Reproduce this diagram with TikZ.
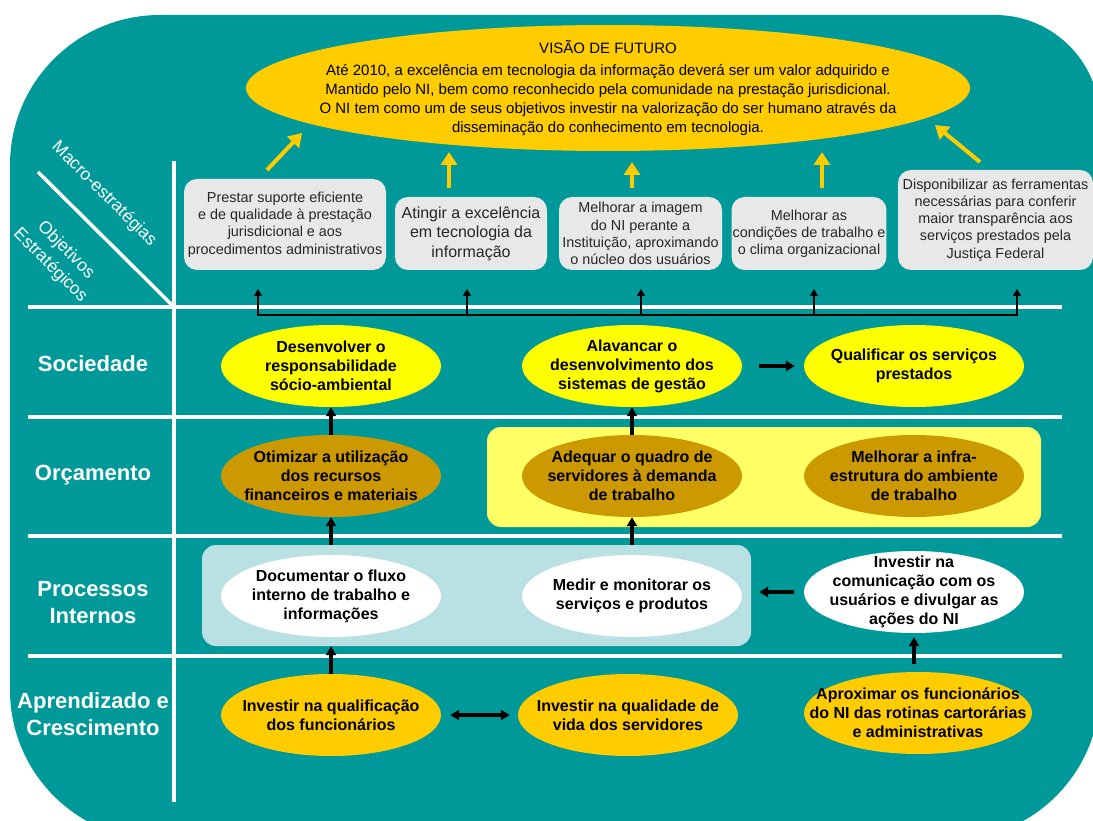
\documentclass[tikz,border=0pt]{standalone}
\usepackage{fontspec}
\setmainfont{Liberation Sans}
\usetikzlibrary{shapes.geometric,arrows.meta}

\definecolor{bsc}{HTML}{009999}
\definecolor{gold}{HTML}{FFCC00}
\definecolor{yel}{HTML}{FFFF00}
\definecolor{ochre}{HTML}{CC9900}
\definecolor{paleyel}{HTML}{FFFF66}
\definecolor{paleblue}{HTML}{B9E0E3}
\definecolor{boxgray}{HTML}{E8E8E8}

\tikzset{
    obj/.style={ellipse, fill=#1, minimum width=220pt, minimum height=82pt,
        inner xsep=-40pt, inner ysep=-20pt, align=center,
        font=\fontsize{16}{19}\selectfont\bfseries},
    macro/.style={fill=boxgray, rounded corners=13pt, align=center, inner sep=1pt,
        text=black!85, font=\fontsize{14.4}{17.2}\selectfont},
    panel/.style={fill=#1, rounded corners=14pt},
    rowlabel/.style={text=white, align=center, font=\fontsize{22}{27}\selectfont\bfseries},
    diaglabel/.style={text=white, align=center, rotate=-45, font=\fontsize{17.5}{22}\selectfont},
    gridline/.style={white, line width=3.5pt},
    flow/.style={-{Triangle[length=9pt,width=10pt]}, line width=3.2pt},
    bus/.style={-{Triangle[length=7pt,width=8pt]}, line width=1.8pt},
    goal/.style={-{Triangle[length=13pt,width=16pt]}, gold, line width=4pt},
}

\begin{document}
\begin{tikzpicture}[x=1pt, y=-1pt]
    \useasboundingbox (0,0) rectangle (1093,821);
    \fill[white] (0,0) rectangle (1093,821);
    \fill[bsc] (10,165) arc[start angle=180, end angle=270, radius=150] -- (995,15)
        arc[start angle=270, end angle=360, radius=105] -- (1100,690)
        arc[start angle=0, end angle=90, radius=150] -- (160,840)
        arc[start angle=90, end angle=180, radius=150] -- cycle;

    % grade
    \foreach \y in {307, 417, 536, 656} {
        \draw[gridline] (28,\y) -- (1062,\y);
    }
    \draw[gridline] (174,161) -- (174,802);
    \draw[gridline] (38,172) -- (174,307);

    \node[diaglabel] (macroest) at (104,194) {Macro-estratégias};
    \node[diaglabel] (objest) at (58,258) {Objetivos\\Estratégicos};

    \foreach \t/\y [count=\i] in {Sociedade/364, Orçamento/475, Processos\\Internos/603, Aprendizado e\\Crescimento/714} {
        \node[rowlabel] (row\i) at (93,\y) {\t};
    }

    % visao
    \node[ellipse, fill=gold, minimum width=724pt, minimum height=126pt, inner xsep=-150pt,
        inner ysep=-30pt, align=center, font=\fontsize{15}{19}\selectfont] (visao) at (608,88)
        {VISÃO DE FUTURO\\[3pt]Até 2010, a excelência em tecnologia da informação deverá ser um valor adquirido e\\Mantido pelo NI, bem como reconhecido pela comunidade na prestação jurisdicional.\\O NI tem como um de seus objetivos investir na valorização do ser humano através da\\disseminação do conhecimento em tecnologia.};

    \foreach \xa/\ya/\xb/\yb [count=\i] in {267/170/302/133, 449/188/449/152, 632/188/632/162, 822/188/822/152, 980/162/935/125} {
        \coordinate (gs\i) at (\xa,\ya);
        \coordinate (ge\i) at (\xb,\yb);
        \draw[goal] (gs\i) -- (ge\i);
    }

    % macro-estrategias
    \node[macro, minimum width=202pt, minimum height=91pt] (m1) at (285,224.5) {Prestar suporte eficiente\\e de qualidade à prestação\\jurisdicional e aos\\procedimentos administrativos};
    \node[macro, minimum width=152pt, minimum height=73pt, font=\fontsize{16}{19.5}\selectfont] (m2) at (471,233.5) {Atingir a excelência\\em tecnologia da\\informação};
    \node[macro, minimum width=163pt, minimum height=73pt] (m3) at (640.5,233.5) {Melhorar a imagem\\do NI perante a\\Instituição, aproximando\\o núcleo dos usuários};
    \node[macro, minimum width=154pt, minimum height=73pt] (m4) at (809,233.5) {Melhorar as\\condições de trabalho e\\o clima organizacional};
    \node[macro, minimum width=195pt, minimum height=100pt] (m5) at (995.5,220) {Disponibilizar as ferramentas\\necessárias para conferir\\maior transparência aos\\serviços prestados pela\\Justiça Federal};

    \foreach \x [count=\i] in {258, 467, 641, 814, 1017} {
        \coordinate (foot\i) at (\x,315);
        \coordinate (tip\i) at (\x,289);
    }
    \draw[bus, {Triangle[length=7pt,width=8pt]}-{Triangle[length=7pt,width=8pt]}] (tip1) -- (foot1) -- (foot5) -- (tip5);
    \foreach \i in {2,3,4} {
        \draw[bus] (foot\i) -- (tip\i);
    }

    % objetivos
    \node[panel=paleyel, minimum width=554pt, minimum height=100pt] (orcpanel) at (764,477) {};
    \node[panel=paleblue, minimum width=549pt, minimum height=101pt] (procpanel) at (476.5,595.5) {};

    \node[obj=yel] (soc1) at (331,366) {Desenvolver o\\responsabilidade\\sócio-ambiental};
    \node[obj=yel] (soc2) at (632,366) {Alavancar o\\desenvolvimento dos\\sistemas de gestão};
    \node[obj=yel] (soc3) at (914,366) {Qualificar os serviços\\prestados};
    \node[obj=ochre] (orc1) at (331,476) {Otimizar a utilização\\dos recursos\\financeiros e materiais};
    \node[obj=ochre] (orc2) at (632,476) {Adequar o quadro de\\servidores à demanda\\de trabalho};
    \node[obj=ochre] (orc3) at (914,476) {Melhorar a infra-\\estrutura do ambiente\\de trabalho};
    \node[obj=white] (proc1) at (331,596) {Documentar o fluxo\\interno de trabalho e\\informações};
    \node[obj=white] (proc2) at (632,596) {Medir e monitorar os\\serviços e produtos};
    \node[obj=white] (proc3) at (914,592) {Investir na\\comunicação com os\\usuários e divulgar as\\ações do NI};
    \node[obj=gold] (apr1) at (331,715) {Investir na qualificação\\dos funcionários};
    \node[obj=gold] (apr2) at (628,715) {Investir na qualidade de\\vida dos servidores};
    \node[obj=gold, minimum width=228pt] (apr3) at (918,713) {Aproximar os funcionários\\do NI das rotinas cartorárias\\e administrativas};

    \draw[flow] (orc1.north) -- (soc1.south);
    \draw[flow] (orc2.north) -- (soc2.south);
    \draw[flow] (procpanel.north -| orc1.south) -- (orc1.south);
    \draw[flow] (procpanel.north -| orc2.south) -- (orc2.south);
    \draw[flow] (apr1.north) -- (procpanel.south -| apr1.north);
    \draw[flow, shorten <=8pt, shorten >=4pt] (apr3.north -| proc3.south) -- (proc3.south);
    \draw[flow, shorten <=17pt, shorten >=9pt] (soc2.east) -- (soc3.west);
    \draw[flow, shorten <=10pt, shorten >=17pt] (proc3.west) -- (proc3.west -| proc2.east);
    \draw[flow, {Triangle[length=9pt,width=10pt]}-{Triangle[length=9pt,width=10pt]}, shorten <=9pt, shorten >=8pt] (apr1.east) -- (apr2.west);
\end{tikzpicture}
\end{document}
